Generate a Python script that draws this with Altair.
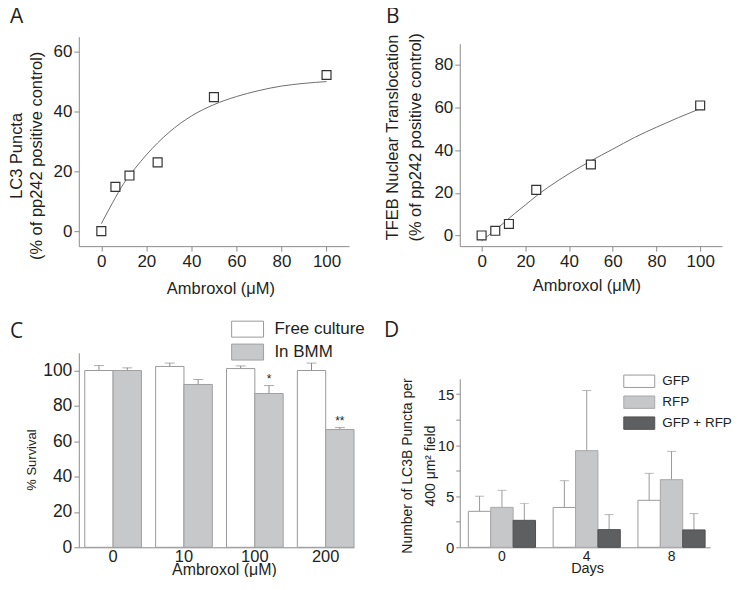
import altair as alt
import pandas as pd

FONT = "Liberation Sans"
TXT = "#231f20"
AX = "#8c8c8c"

# ---------------- data ----------------
PANEL_LETTERS = ["A", "B", "C", "D"]

A_DOSE = [0, 6.25, 12.5, 25, 50, 100]
A_LC3 = [0, 14.8, 18.6, 23, 44.8, 52.2]
A_FIT_DOSE = [0, 5, 10, 15, 20, 25, 30, 40, 50, 60, 70, 80, 90, 100]
A_FIT_LC3 = [2.5, 9.5, 16, 21, 25.5, 29.5, 33, 38.5, 42.3, 45, 47, 48.5, 49.4, 50]

B_DOSE = [0, 6.25, 12.5, 25, 50, 100]
B_TFEB = [0, 2.2, 5.4, 21.4, 33.3, 61]
B_FIT_DOSE = [0, 5, 10, 15, 20, 25, 30, 40, 50, 60, 70, 80, 90, 100]
B_FIT_TFEB = [-2.5, 1.5, 5.8, 10.2, 14.3, 18.5, 22.3, 29, 35, 40.5, 46, 50.8, 55.3, 59.5]

C_DOSES = ["0", "10", "100", "200"]
C_SERIES = ["Free culture", "In BMM"]
C_FREE = [100, 102.3, 101.1, 100]
C_FREE_HI = [102.8, 104.2, 102.6, 104.2]
C_BMM = [100, 92.1, 87, 66.6]
C_BMM_HI = [101.5, 94.9, 91.5, 67.7]
C_BMM_SIG = ["", "", "*", "**"]

D_DAYS = ["0", "4", "8"]
D_SERIES = ["GFP", "RFP", "GFP + RFP"]
D_GFP = [3.52, 3.9, 4.6]
D_GFP_HI = [5.0, 6.52, 7.24]
D_RFP = [3.91, 9.46, 6.62]
D_RFP_HI = [5.58, 15.36, 9.39]
D_BOTH = [2.64, 1.73, 1.7]
D_BOTH_HI = [4.3, 3.2, 3.3]


def letter(ch, x, y):
    return alt.Chart(pd.DataFrame({"t": [ch]})).mark_text(
        align="left", baseline="top", font="Open Sans", fontSize=21, color=TXT
    ).encode(x=alt.value(x), y=alt.value(y), text="t:N")


# ---------------- panel A ----------------
ptsA = pd.DataFrame({"dose": A_DOSE, "val": A_LC3})
fitA = pd.DataFrame({"dose": A_FIT_DOSE, "val": A_FIT_LC3})
xA = alt.X("dose:Q", scale=alt.Scale(domain=[-10, 110], nice=False, zero=False),
           axis=alt.Axis(values=[0, 20, 40, 60, 80, 100], title="Ambroxol (μM)",
                         titleX=142, titleY=48, titleAlign="center", titleBaseline="alphabetic"))
yA = alt.Y("val:Q", scale=alt.Scale(domain=[-5, 65], nice=False, zero=False),
           axis=alt.Axis(values=[0, 20, 40, 60], title=["LC3 Puncta", "(% of pp242 positive control)"],
                         titleX=-62, titleY=119, titleAngle=270, titleAlign="center",
                         titleBaseline="middle", titleLineHeight=20))
lineA = alt.Chart(fitA).mark_line(color="#6e6e6e", strokeWidth=1, interpolate="monotone").encode(x=xA, y=yA)
pointA = alt.Chart(ptsA).mark_point(shape="square", size=80, filled=True, fill="white",
                                    stroke="#333333", strokeWidth=1.2, opacity=1).encode(x=xA, y=yA)
panelA = alt.layer(lineA, pointA, letter(PANEL_LETTERS[0], -69, -31)).properties(width=271, height=210)

# ---------------- panel B ----------------
ptsB = pd.DataFrame({"dose": B_DOSE, "val": B_TFEB})
fitB = pd.DataFrame({"dose": B_FIT_DOSE, "val": B_FIT_TFEB})
xB = alt.X("dose:Q", scale=alt.Scale(domain=[-10, 110], nice=False, zero=False),
           axis=alt.Axis(values=[0, 20, 40, 60, 80, 100], title="Ambroxol (μM)",
                         titleX=127, titleY=44, titleAlign="center", titleBaseline="alphabetic"))
yB = alt.Y("val:Q", scale=alt.Scale(domain=[-5, 90], range=[210, 7], nice=False, zero=False),
           axis=alt.Axis(values=[0, 20, 40, 60, 80],
                         title=["TFEB Nuclear Translocation", "(% of pp242 positive control)"],
                         titleX=-67.5, titleY=100.5, titleAngle=270, titleAlign="center",
                         titleBaseline="middle", titleLineHeight=23.3))
lineB = alt.Chart(fitB).mark_line(color="#6e6e6e", strokeWidth=1, interpolate="monotone").encode(x=xB, y=yB)
pointB = alt.Chart(ptsB).mark_point(shape="square", size=80, filled=True, fill="white",
                                    stroke="#333333", strokeWidth=1.2, opacity=1).encode(x=xB, y=yB)
panelB = alt.layer(lineB, pointB, letter(PANEL_LETTERS[1], -74, -31)).properties(width=263, height=210)

# ---------------- panel C ----------------
dfC = pd.DataFrame({
    "dose": C_DOSES * 2,
    "series": [C_SERIES[0]] * 4 + [C_SERIES[1]] * 4,
    "val": C_FREE + C_BMM,
    "hi": C_FREE_HI + C_BMM_HI,
    "sig": [""] * 4 + C_BMM_SIG,
})
xC = alt.X("dose:N", sort=C_DOSES, scale=alt.Scale(paddingInner=0.2, paddingOuter=0.042, align=1),
           axis=alt.Axis(labelAngle=0, ticks=False, tickSize=0, labelPadding=1, labelFontSize=16.5,
                         title="Ambroxol (μM)", titleFontSize=16, titleX=145.5, titleY=27,
                         titleAlign="center", titleBaseline="alphabetic"))
xoC = alt.XOffset("series:N", sort=C_SERIES, scale=alt.Scale(paddingInner=0, paddingOuter=0))


def yC(field):
    return alt.Y(field, type="quantitative", scale=alt.Scale(domain=[0, 110], nice=False, zero=False),
                 axis=alt.Axis(values=[0, 20, 40, 60, 80, 100], labelFontSize=17.5, title="% Survival",
                               titleFontSize=13, titleX=-47, titleY=107, titleAngle=270,
                               titleAlign="center", titleBaseline="middle"))


barsC = alt.Chart(dfC).mark_bar(strokeWidth=1).encode(
    x=xC, xOffset=xoC, y=yC("val"),
    fill=alt.Fill("series:N", sort=C_SERIES,
                  scale=alt.Scale(domain=C_SERIES, range=["#ffffff", "#c7c8ca"]),
                  legend=alt.Legend(title=None, orient="none", legendX=160.75, legendY=-32.25,
                                    symbolType="M-2,-1H2V1H-2Z", symbolSize=256,
                                    symbolStrokeColor="#9a9a9a", symbolStrokeWidth=1,
                                    labelFont=FONT, labelFontSize=17, labelColor=TXT,
                                    labelOffset=18.4, rowPadding=2, padding=0)),
    stroke=alt.Stroke("series:N", scale=alt.Scale(domain=C_SERIES, range=["#9a9a9a", "#a0a0a0"]),
                      legend=None),
)
errC = alt.Chart(dfC).mark_rule(color="#8a8a8a", strokeWidth=1).encode(
    x=xC, xOffset=xoC, y=yC("val"), y2="hi:Q")
capC = alt.Chart(dfC).mark_tick(color="#8a8a8a", thickness=1, size=10).encode(
    x=xC, xOffset=xoC, y=yC("hi"))
sigC = alt.Chart(dfC).mark_text(font=FONT, fontSize=12, color=TXT, dy=-3, baseline="alphabetic").encode(
    x=xC, xOffset=xoC, y=yC("hi"), text="sig:N")
panelC = alt.layer(errC, capC, barsC, sigC, letter(PANEL_LETTERS[2], -69, -31.5)).properties(width=276, height=195)

# ---------------- panel D ----------------
dfD = pd.DataFrame({
    "day": D_DAYS * 3,
    "series": [D_SERIES[0]] * 3 + [D_SERIES[1]] * 3 + [D_SERIES[2]] * 3,
    "val": D_GFP + D_RFP + D_BOTH,
    "hi": D_GFP_HI + D_RFP_HI + D_BOTH_HI,
})
xD = alt.X("day:N", sort=D_DAYS, scale=alt.Scale(paddingInner=0.208, paddingOuter=0.08, align=0.635),
           axis=alt.Axis(labelAngle=0, ticks=False, tickSize=0, labelPadding=2, labelFontSize=14,
                         title="Days", titleFontSize=14.5, titleX=127.7, titleY=25, titleAlign="center",
                         titleBaseline="alphabetic"))
xoD = alt.XOffset("series:N", sort=D_SERIES, scale=alt.Scale(paddingInner=0, paddingOuter=0))


def yD(field):
    return alt.Y(field, type="quantitative",
                 scale=alt.Scale(domain=[0, 16.5], range=[195, 26], nice=False, zero=False),
                 axis=alt.Axis(values=[0, 2.5, 5, 7.5, 10, 12.5, 15], labelOverlap=False,
                               labelExpr="datum.value % 5 === 0 ? datum.label : ''",
                               labelFontSize=15, tickSize=4,
                               title=["Number of LC3B Puncta per", "400  μm² field"],
                               titleFontSize=14, titleX=-52.5, titleY=113, titleAngle=270,
                               titleAlign="center", titleBaseline="middle", titleLineHeight=23.3))


barsD = alt.Chart(dfD).mark_bar(strokeWidth=1).encode(
    x=xD, xOffset=xoD, y=yD("val"),
    fill=alt.Fill("series:N", sort=D_SERIES,
                  scale=alt.Scale(domain=D_SERIES, range=["#ffffff", "#c6c7c9", "#5e5f61"]),
                  legend=alt.Legend(title=None, orient="none", legendX=173, legendY=21.5,
                                    symbolType="M-2.5,-1H2.5V1H-2.5Z", symbolSize=154,
                                    symbolStrokeColor="#8a8a8a", symbolStrokeWidth=1,
                                    labelFont=FONT, labelFontSize=13.5, labelColor=TXT,
                                    labelOffset=16, rowPadding=3, padding=0)),
    stroke=alt.Stroke("series:N", scale=alt.Scale(domain=D_SERIES, range=["#9a9a9a", "#a8a8a8", "#505050"]),
                      legend=None),
)
errD = alt.Chart(dfD).mark_rule(color="#9a9a9a", strokeWidth=1).encode(
    x=xD, xOffset=xoD, y=yD("val"), y2="hi:Q")
capD = alt.Chart(dfD).mark_tick(color="#9a9a9a", thickness=1, size=9).encode(
    x=xD, xOffset=xoD, y=yD("hi"))
panelD = alt.layer(errD, capD, barsD, letter(PANEL_LETTERS[3], -76, -32.5)).properties(width=251, height=195)

# ---------------- layout ----------------
chart = alt.concat(
    panelA, panelB, panelC, panelD, columns=2, bounds="flush",
    spacing=alt.RowColnumber(row=107, column=106),
).resolve_scale(
    fill="independent", stroke="independent", xOffset="independent"
).properties(
    padding={"top": -3, "left": 0, "right": -1, "bottom": -1}
).configure_view(
    stroke=None
).configure_axis(
    grid=False, domainColor=AX, tickColor=AX, labelFont=FONT, titleFont=FONT,
    labelColor=TXT, titleColor=TXT, titleFontWeight="normal", labelFontSize=17,
    titleFontSize=16.5, tickSize=5, labelPadding=2, labelFlush=False
)

chart.save("out.html", embed_options={"renderer": "svg", "actions": False})
